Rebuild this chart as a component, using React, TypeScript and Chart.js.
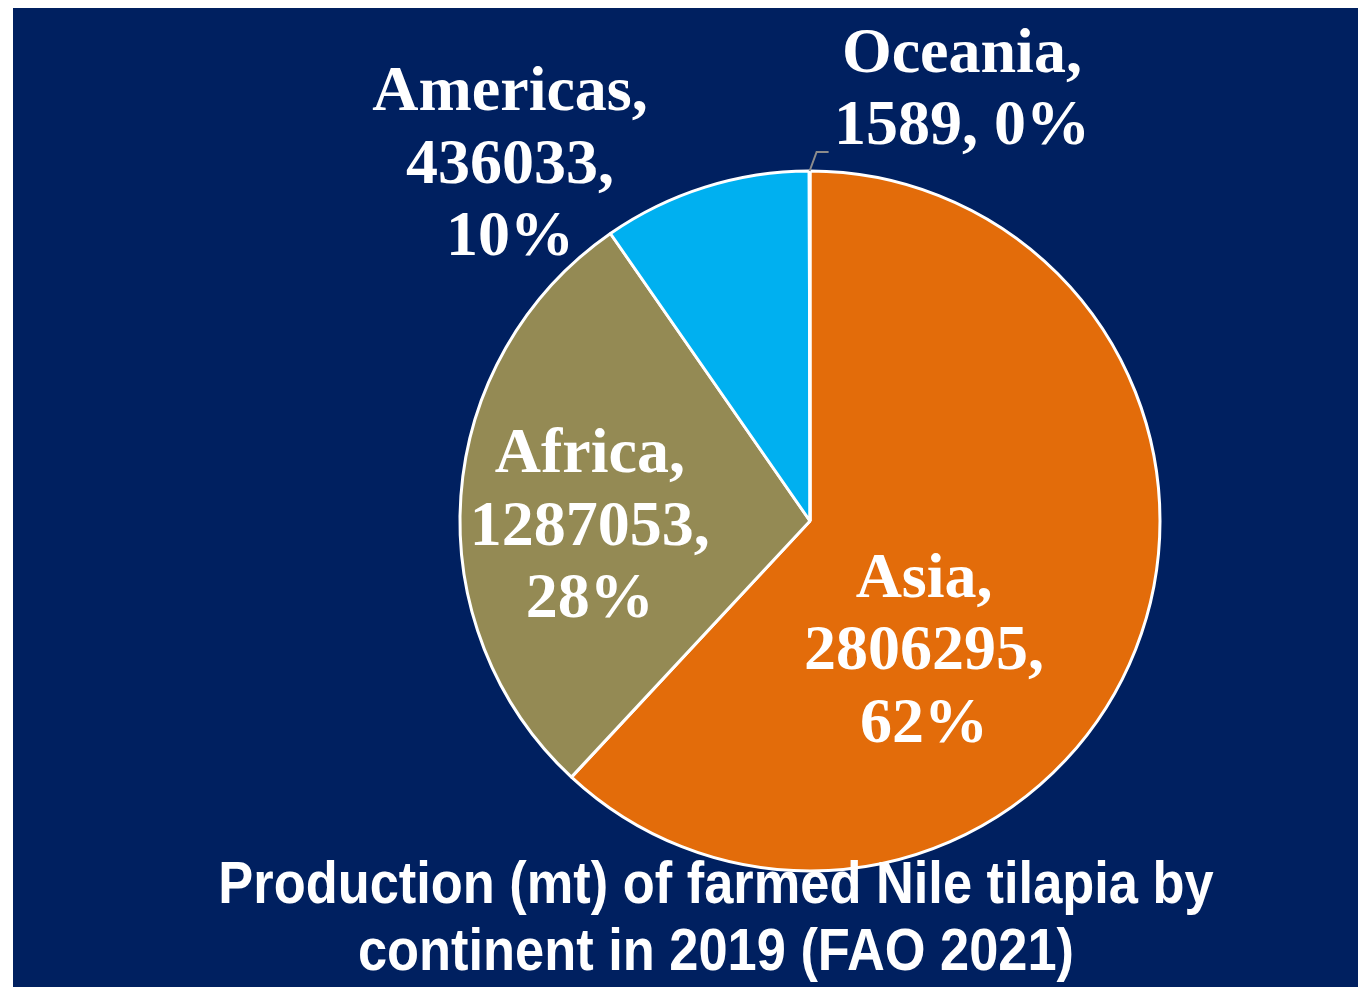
import React, { useEffect, useRef } from "react";
import { Chart, registerables } from "chart.js";

Chart.register(...registerables);

const categories = ["Asia", "Africa", "Americas", "Oceania"];
const production = [2806295, 1287053, 436033, 1589];
const percentLabels = ["62%", "28%", "10%", "0%"];
const sliceColors = ["#E36C0A", "#948A54", "#00B0F0", "#4F81BD"];
const titleLines = ["Production (mt) of farmed Nile tilapia by", "continent in 2019 (FAO 2021)"];

// label text lines per slice
const labelLines = [
  ["Asia,", "2806295,", "62%"],
  ["Africa,", "1287053,", "28%"],
  ["Americas,", "436033,", "10%"],
  ["Oceania,", "1589, 0%"],
];
// label anchor (centre x, first baseline) relative to pie centre, in radius units
const labelAnchors = [
  [0.326, 0.217],
  [-0.629, -0.14],
  [-0.857, -1.174],
  [0.434, -1.283],
];

const NAVY = "#002060";

const labelPlugin = {
  id: "customLabels",
  beforeDraw(chart: any) {
    const { ctx, width, height } = chart;
    ctx.save();
    ctx.fillStyle = NAVY;
    ctx.fillRect(0, 0, width, height);
    ctx.restore();
  },
  afterDraw(chart: any) {
    const { ctx } = chart;
    const meta = chart.getDatasetMeta(0);
    const arc0 = meta.data[0];
    const cx = arc0.x;
    const cy = arc0.y;
    const r = arc0.outerRadius;
    ctx.save();
    // leader line for Oceania
    const oc = meta.data[3];
    const mid = (oc.startAngle + oc.endAngle) / 2;
    const sx = cx + Math.cos(mid) * r;
    const sy = cy + Math.sin(mid) * r;
    ctx.strokeStyle = "#8C8C8C";
    ctx.lineWidth = 2;
    ctx.beginPath();
    ctx.moveTo(sx, sy);
    ctx.lineTo(sx + 7, sy - 19);
    ctx.lineTo(sx + 19, sy - 19);
    ctx.stroke();

    ctx.fillStyle = "#FFFFFF";
    ctx.font = "bold 64px 'Liberation Serif', 'Times New Roman', serif";
    ctx.textAlign = "center";
    ctx.textBaseline = "alphabetic";
    const lh = 72.5;
    labelLines.forEach((lines, i) => {
      const ax = cx + labelAnchors[i][0] * r;
      const ay = cy + labelAnchors[i][1] * r;
      lines.forEach((t, j) => ctx.fillText(t, ax, ay + j * lh));
    });

    // title (narrow bold sans, emulated by horizontal scaling)
    ctx.font = "bold 60px 'Liberation Sans', Arial, sans-serif";
    const tx = chart.width / 2 + 30.5;
    ctx.translate(tx, 0);
    ctx.scale(0.873, 1);
    ctx.fillText(titleLines[0], 0, 895);
    ctx.fillText(titleLines[1], 0, 962);
    ctx.restore();
  },
};

export default function App() {
  const ref = useRef<HTMLCanvasElement>(null);
  useEffect(() => {
    if (!ref.current) return;
    const chart = new Chart(ref.current, {
      type: "pie",
      data: {
        labels: categories,
        datasets: [
          {
            data: production,
            backgroundColor: sliceColors,
            borderColor: "#FFFFFF",
            borderWidth: 3,
            radius: 350,
          } as any,
        ],
      },
      options: {
        animation: false,
        responsive: false,
        maintainAspectRatio: false,
        layout: { padding: { left: 249, right: 0, top: 47, bottom: 0 } },
        plugins: {
          legend: { display: false },
          tooltip: { enabled: false },
          title: { display: false },
        },
      },
      plugins: [labelPlugin],
    });
    return () => chart.destroy();
  }, []);
  return (
    <div style={{ position: "fixed", left: 13, top: 8, width: 1345, height: 979 }}>
      <canvas ref={ref} width={1345} height={979} style={{ display: "block" }} />
    </div>
  );
}
